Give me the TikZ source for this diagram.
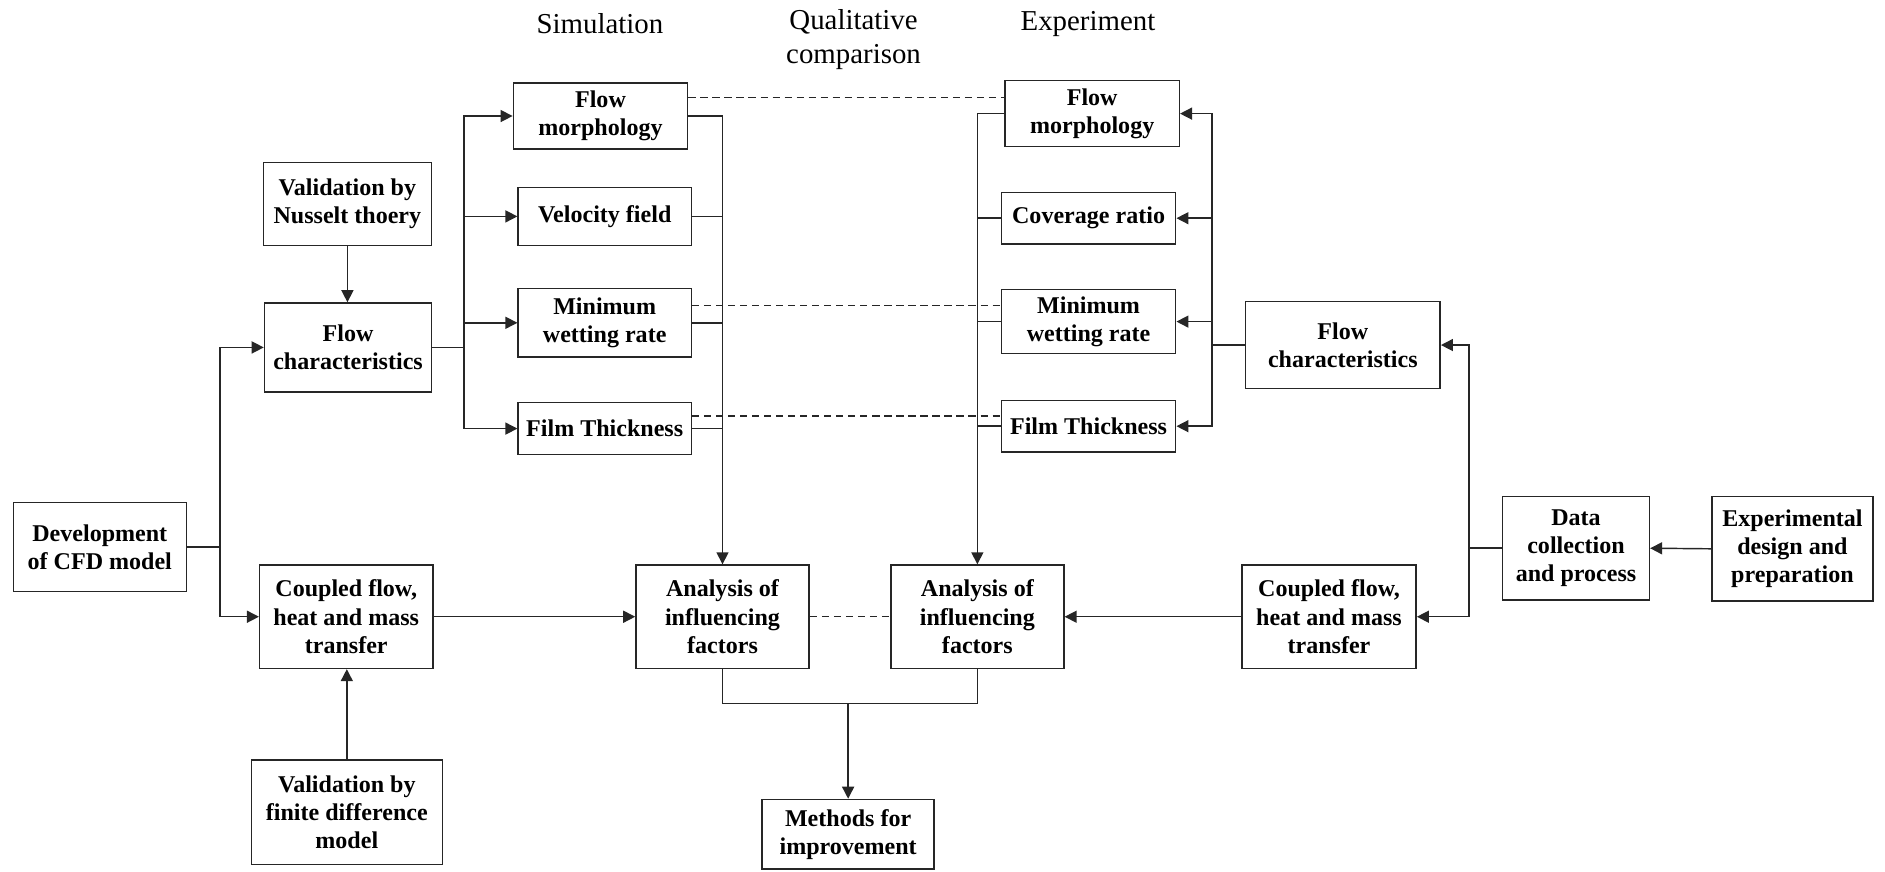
\documentclass[tikz,border=0pt]{standalone}
\usepackage{fontspec}
\setmainfont{Liberation Serif}
\usetikzlibrary{arrows.meta,calc}
\begin{document}
\begin{tikzpicture}[x=0.5pt,y=-0.5pt,
 box/.style={draw=black!85, line width=0.6pt, align=center, inner sep=1pt, font=\bfseries\fontsize{10}{11.7}\selectfont},
 sz/.style 2 args={minimum width=#1*0.5pt, minimum height=#2*0.5pt},
 line/.style={draw=black!85, line width=0.6pt},
 arr/.style={line, -{Triangle[length=5pt,width=5pt]}},
 dsh/.style={draw=black!85, line width=0.5pt, dash pattern=on 3pt off 2pt},
 hdr/.style={font=\fontsize{12}{14}\selectfont, align=center, inner sep=0pt}]
\useasboundingbox (0,0) rectangle (1568,725);

% headers
\node[hdr] (hsim) at (499,20) {Simulation};
\node[hdr] (hq) at (710,33) {Qualitative\\comparison};
\node[hdr] (hexp) at (905,20) {Experiment};

% simulation side
\node[box, sz={140}{69}] (vn) at (289,169.5) {Validation by\\Nusselt thoery};
\node[box, sz={139}{74}] (fcs) at (289.5,289) {Flow\\characteristics};
\node[box, sz={144}{74}] (cfd) at (83,455) {Development\\of CFD model};
\node[box, sz={144}{86}] (cs) at (288,513) {Coupled flow,\\heat and mass\\transfer};
\node[box, sz={159}{87}] (vfd) at (288.5,675.5) {Validation by\\finite difference\\model};
\node[box, sz={145}{55}] (fms) at (499.5,96.5) {Flow\\morphology};
\node[box, sz={144}{48}] (vf) at (503,180) {Velocity field};
\node[box, sz={144}{57}] (mws) at (503,268.5) {Minimum\\wetting rate};
\node[box, sz={144}{43}] (fts) at (503,356.5) {Film Thickness};
\node[box, sz={144}{86}] (as) at (601,513) {Analysis of\\influencing\\factors};

% middle
\node[box, sz={143}{58}] (mi) at (705.5,694) {Methods for\\improvement};

% experiment side
\node[box, sz={144}{86}] (ae) at (813,513) {Analysis of\\influencing\\factors};
\node[box, sz={145}{55}] (fme) at (908.5,94.5) {Flow\\morphology};
\node[box, sz={145}{43}] (cr) at (905.5,181.5) {Coverage ratio};
\node[box, sz={145}{53}] (mwe) at (905.5,267.5) {Minimum\\wetting rate};
\node[box, sz={145}{43}] (fte) at (905.5,354.5) {Film Thickness};
\node[box, sz={162}{72}] (fce) at (1117,287) {Flow\\characteristics};
\node[box, sz={145}{86}] (ce) at (1105.5,513) {Coupled flow,\\heat and mass\\transfer};
\node[box, sz={122}{86}] (dc) at (1311,456) {Data\\collection\\and process};
\node[box, sz={134}{87}] (ed) at (1491,456.5) {Experimental\\design and\\preparation};

% left connectors
\coordinate (lb) at (183,455);
\draw[line] (cfd.east) -- (lb);
\draw[arr] (lb) |- (fcs.west);
\draw[arr] (lb) |- (cs.west);
\draw[arr] (vn.south) -- (vn.south |- fcs.north);
\draw[arr] (vfd.north) -- (vfd.north |- cs.south);
\draw[arr] (cs.east) -- (as.west);

% simulation bus
\coordinate (sb) at (386,289);
\draw[line] (fcs.east) -- (sb);
\draw[arr] (sb) |- (fms.west);
\draw[arr] (sb) |- (vf.west);
\draw[arr] (sb) |- (mws.west);
\draw[arr] (sb) |- (fts.west);
\draw[arr] (fms.east) -| (as.north);
\draw[line] (vf.east) -- (vf.east -| as.north);
\draw[line] (mws.east) -- (mws.east -| as.north);
\draw[line] (fts.east) -- (fts.east -| as.north);

% dashed comparison lines
\draw[dsh] (fms.east |- 0,81) -- (fme.west |- 0,81);
\draw[dsh] (mws.east |- 0,254) -- (mwe.west |- 0,254);
\draw[dsh] (fts.east |- 0,346) -- (fte.west |- 0,346);
\draw[dsh] (as.east) -- (ae.west);

% experiment collectors
\draw[arr] (fme.west) -| (ae.north);
\draw[line] (cr.west) -- (cr.west -| ae.north);
\draw[line] (mwe.west) -- (mwe.west -| ae.north);
\draw[line] (fte.west) -- (fte.west -| ae.north);

\coordinate (eb) at (1008,287);
\draw[line] (fce.west) -- (eb);
\draw[arr] (eb) |- (fme.east);
\draw[arr] (eb) |- (cr.east);
\draw[arr] (eb) |- (mwe.east);
\draw[arr] (eb) |- (fte.east);

\coordinate (rb) at (1222,456);
\draw[line] (dc.west) -- (rb);
\draw[arr] (rb) |- (fce.east);
\draw[arr] (rb) |- (ce.east);
\draw[arr] (ed.west) -- (dc.east);
\draw[arr] (ce.west) -- (ae.east);

% to methods
\coordinate (mj) at (705.5,585);
\draw[line] (as.south) |- (mj) -| (ae.south);
\draw[arr] (mj) -- (mi.north);
\end{tikzpicture}
\end{document}
